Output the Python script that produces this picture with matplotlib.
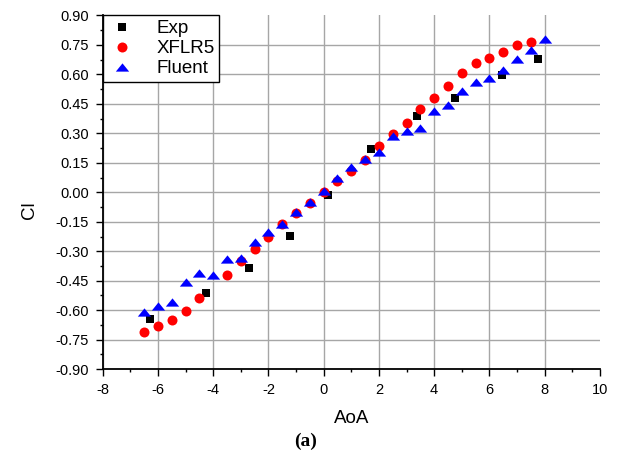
import matplotlib
matplotlib.use("Agg")
import matplotlib.pyplot as plt
from matplotlib.path import Path
import numpy as np

plt.rcParams['font.family'] = ['Liberation Sans', 'DejaVu Sans']

# ---- data ----
exp_aoa = [-6.3, -4.27, -2.71, -1.22, 0.15, 1.72, 3.39, 4.75, 6.45, 7.75]
exp_cl = [-0.643, -0.510, -0.385, -0.220, -0.015, 0.220, 0.386, 0.481, 0.596, 0.678]

xflr5_aoa = [-6.5, -6, -5.5, -5, -4.5, -3.5, -3, -2.5, -2, -1.5, -1, -0.5, 0, 0.5,
             1, 1.5, 2, 2.5, 3, 3.5, 4, 4.5, 5, 5.5, 6, 6.5, 7, 7.5]
xflr5_cl = [-0.712, -0.680, -0.649, -0.603, -0.537, -0.420, -0.349, -0.290, -0.229,
            -0.163, -0.107, -0.053, 0.0, 0.055, 0.110, 0.166, 0.234, 0.295, 0.354,
            0.422, 0.478, 0.542, 0.606, 0.656, 0.683, 0.715, 0.747, 0.766]

fluent_aoa = [-6.5, -6, -5.5, -5, -4.5, -4, -3.5, -3, -2.5, -2, -1.5, -1, -0.5, 0,
              0.5, 1, 1.5, 2, 2.5, 3, 3.5, 4, 4.5, 5, 5.5, 6, 6.5, 7, 7.5, 8]
fluent_cl = [-0.61, -0.578, -0.558, -0.458, -0.412, -0.42, -0.341, -0.334, -0.251,
             -0.200, -0.161, -0.102, -0.049, 0.005, 0.074, 0.127, 0.168, 0.203,
             0.284, 0.312, 0.325, 0.413, 0.446, 0.513, 0.559, 0.581, 0.620, 0.678,
             0.723, 0.779]

x_ticks = [-8, -6, -4, -2, 0, 2, 4, 6, 8, 10]
y_ticks = [-0.90, -0.75, -0.60, -0.45, -0.30, -0.15, 0.00, 0.15, 0.30, 0.45, 0.60, 0.75, 0.90]

# ---- figure ----
fig = plt.figure(figsize=(6.19, 4.53), dpi=100)
ax = fig.add_axes([0.166, 0.185, 0.803, 0.781])

tri = Path([(-1, -0.62), (1, -0.62), (0, 0.62), (-1, -0.62)],
           [Path.MOVETO, Path.LINETO, Path.LINETO, Path.CLOSEPOLY])

ax.plot(exp_aoa, exp_cl, linestyle='none', marker='s', markersize=6,
        color='black', markeredgewidth=0, label='Exp', zorder=3)
ax.plot(xflr5_aoa, xflr5_cl, linestyle='none', marker='o', markersize=7.2,
        color='#ff0000', markeredgewidth=0, label='XFLR5', zorder=4)
ax.plot(fluent_aoa, fluent_cl, linestyle='none', marker=tri, markersize=9.6,
        color='#0000ff', markeredgewidth=0, label='Fluent', zorder=5)

ax.set_xlim(-8, 10)
ax.set_ylim(-0.90, 0.90)
ax.set_xticks(x_ticks)
ax.set_yticks(y_ticks)
ax.set_xticklabels([f"{t:d}" for t in x_ticks])
ax.set_yticklabels([f"{t:.2f}" for t in y_ticks])
ax.set_xticks(np.arange(-7, 10, 2), minor=True)
ax.set_yticks(np.arange(-0.825, 0.9, 0.15), minor=True)

ax.tick_params(axis='both', which='major', direction='out', length=5, width=1.0,
               labelsize=10.5, pad=5, color='black')
ax.tick_params(axis='both', which='minor', direction='out', length=2.5, width=1.0)

ax.grid(True, which='major', color='#a6a6a6', linewidth=1.0, zorder=0)
ax.set_axisbelow(True)
# hide gridlines lying on the frame
ax.yaxis.get_gridlines()[-1].set_visible(False)
ax.xaxis.get_gridlines()[-1].set_visible(False)

for s in ['top', 'right']:
    ax.spines[s].set_visible(False)
for s in ['left', 'bottom']:
    ax.spines[s].set_linewidth(1.3)
    ax.spines[s].set_color('black')

ax.set_xlabel('AoA', fontsize=13.5, labelpad=9)
ax.set_ylabel('Cl', fontsize=13.5)
ax.yaxis.set_label_coords(-0.13, 0.45)

leg = ax.legend(loc='upper left', bbox_to_anchor=(0, 1), borderaxespad=0,
                fancybox=False, framealpha=1, edgecolor='black', fontsize=13.5,
                handletextpad=1.0, borderpad=0.25, labelspacing=0.16,
                handlelength=1.6)
leg.get_frame().set_linewidth(1.0)

fig.text(0.494, 1 - 441 / 453, '(a)', fontsize=14, fontweight='bold',
         family=['Liberation Serif', 'DejaVu Serif'], ha='center', va='center')

fig.savefig('out.png', dpi=100)
